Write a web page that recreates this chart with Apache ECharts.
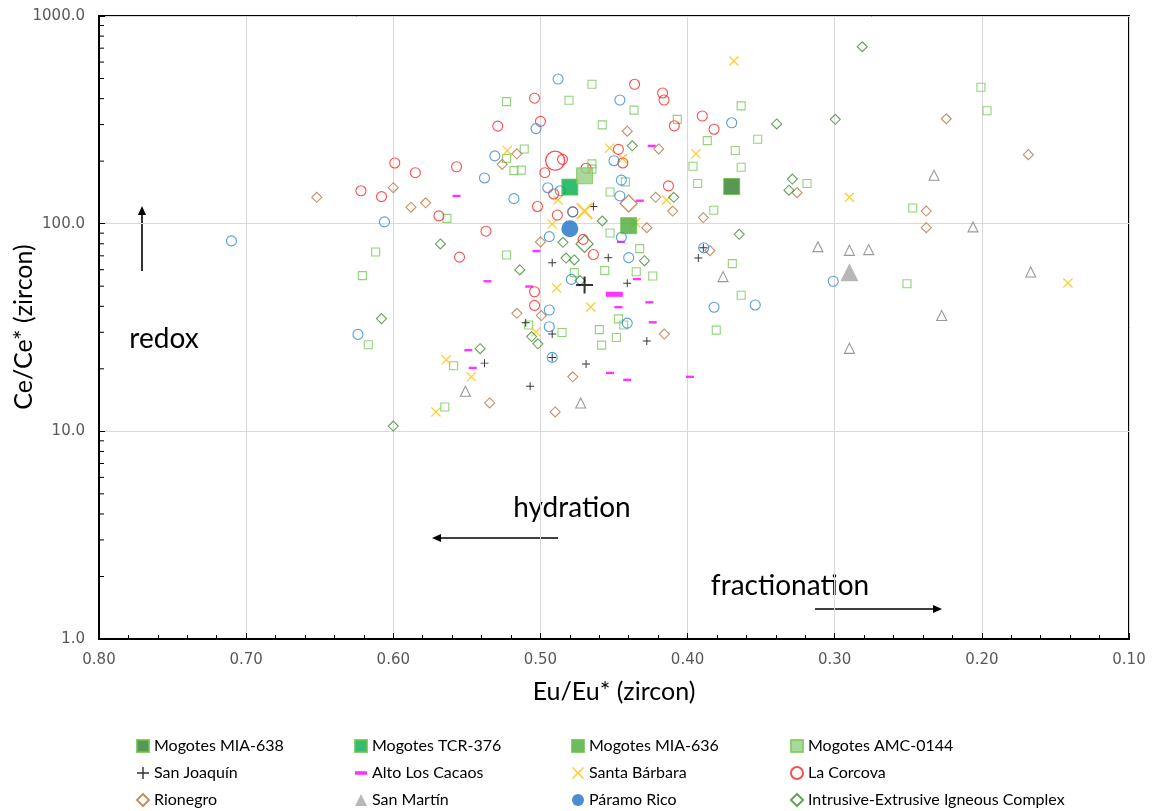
<!DOCTYPE html>
<html>
<head>
<meta charset="utf-8">
<script src="https://cdn.jsdelivr.net/npm/echarts@6/dist/echarts.min.js"></script>
<style>
html,body{margin:0;padding:0;background:#fff;}
#chart{width:1152px;height:811px;}
</style>
</head>
<body>
<div id="chart"></div>
<script>
// ---------- data (Eu/Eu*, Ce/Ce*) ----------
const yMinorTickValues = [2,3,4,5,6,7,8,9,20,30,40,50,60,70,80,90,200,300,400,500,600,700,800,900];

const mogotesMIA638 = [[0.370, 151]];
const mogotesTCR376 = [[0.480, 150]];
const mogotesMIA636 = [[0.440, 97.8]];
const mogotesAMC0144 = [[0.470, 170]];

const mogotesAnalyses = [
[0.5635,106],[0.612,73.1],[0.621,56.2],[0.617,26.1],[0.559,20.7],[0.565,13.1],[0.523,70.6],[0.508,32.5],
[0.465,469],[0.523,387],[0.4806,393],[0.4364,352],[0.407,318],[0.458,299],[0.3866,251],[0.3523,255],
[0.511,229],[0.523,206],[0.518,180],[0.513,181],[0.465,194],[0.465,183],[0.3676,225],[0.3636,187],
[0.3963,189],[0.3931,156],[0.4423,159],[0.4527,142],[0.3822,116],[0.4527,90.2],[0.4325,75.8],[0.477,58.1],
[0.4563,59.4],[0.4349,58.7],[0.4237,56.0],[0.3696,64.2],[0.2006,454],[0.1965,350],[0.3636,369],[0.3188,156],
[0.247,119],[0.2509,51.4],[0.3636,45.2],[0.3805,30.7],[0.4853,29.9],[0.447,34.8],[0.4434,32.5],[0.460,30.9],
[0.4484,28.3],[0.4584,26.0]
];

const sanJoaquin = [
[0.464,121],[0.4539,68.6],[0.492,64.9],[0.3927,68.3],[0.3893,76.6],[0.510,33.3],[0.538,21.3],[0.507,16.5],
[0.441,51.6],[0.492,29.4],[0.4277,27.2],[0.492,22.7],[0.469,21.1]
];
const sanJoaquinMean = [[0.470, 50.7]];

const altoLosCacaos = [
[0.557,136],[0.4244,237],[0.4325,129],[0.5027,73.8],[0.4453,81.7],[0.4344,54.1],[0.536,52.8],[0.5076,49.8],
[0.549,24.6],[0.546,20.2],[0.447,39.6],[0.426,41.8],[0.4237,33.5],[0.4527,19.1],[0.441,17.7],[0.3984,18.3]
];
const altoLosCacaosMean = [[0.4498, 45.7]];

const santaBarbara = [
[0.3685,607],[0.453,231],[0.5225,225],[0.4442,206],[0.3943,217],[0.488,130],[0.4142,130],[0.492,99.6],
[0.4353,101],[0.290,134],[0.1415,51.8],[0.503,30.1],[0.564,22.1],[0.547,18.3],[0.571,12.4],[0.489,49.0],
[0.4658,39.7]
];
const santaBarbaraMean = [[0.470, 115]];

const laCorcova = [
[0.599,196],[0.585,176],[0.557,188],[0.622,144],[0.608,135],[0.569,109],[0.537,92],[0.555,69],
[0.529,295],[0.436,469],[0.417,426],[0.416,394],[0.504,402],[0.500,311],[0.409,296],[0.390,330],
[0.382,285],[0.447,228],[0.485,204],[0.444,196],[0.469,185],[0.413,152],[0.497,176],[0.491,139],
[0.502,121],[0.4885,110],[0.478,114],[0.471,84],[0.464,71],[0.504,47],[0.504,40.4]
];
const laCorcovaMean = [[0.490, 201]];

const rionegro = [
[0.652,134],[0.600,149],[0.588,120],[0.578,126],[0.526,193],[0.441,279],[0.4196,229],[0.516,217],
[0.4217,134],[0.4101,115],[0.4277,95.7],[0.3893,107],[0.500,81.7],[0.3848,74.1],[0.2242,320],[0.1684,215],
[0.3256,141],[0.2378,115],[0.2378,95.7],[0.516,37.0],[0.4994,36.1],[0.4158,29.4],[0.478,18.3],[0.490,12.4],
[0.5345,13.7]
];
const rionegroMean = [[0.440, 125]];

const sanMartin = [
[0.3759,55.6],[0.2325,171],[0.206,96.5],[0.3114,77.5],[0.290,74.4],[0.2769,75.0],[0.1668,58.5],[0.2273,36.1],
[0.290,25.1],[0.551,15.6],[0.4726,13.7]
];
const sanMartinMean = [[0.290, 58.3]];

const paramoRico = [
[0.538,166],[0.531,212],[0.606,102],[0.710,82.6],[0.488,497],[0.446,394],[0.503,287],[0.370,306],
[0.450,201],[0.495,149],[0.4865,144],[0.445,162],[0.446,136],[0.518,132],[0.478,114],[0.494,86.6],
[0.445,85.9],[0.440,68.6],[0.389,76.6],[0.624,29.3],[0.494,38.4],[0.494,31.9],[0.479,53.9],[0.441,33.2],
[0.492,22.7],[0.382,39.6],[0.354,40.6],[0.301,52.8]
];
const paramoRicoMean = [[0.480, 94.6]];

const intrusive = [
[0.568,79.9],[0.514,59.9],[0.4376,237],[0.4094,134],[0.458,103],[0.3649,88.9],[0.4847,81.3],[0.4826,68.3],
[0.477,66.9],[0.4293,66.3],[0.2813,711],[0.3394,302],[0.2996,318],[0.3288,164],[0.3311,145],[0.608,34.9],
[0.506,28.6],[0.5017,26.4],[0.541,25.0],[0.600,10.6],[0.473,53.2]
];
const intrusiveMean = [[0.470, 79.9]];

// ---------- styling ----------
const PLUS = 'path://M4.4,0H5.6V4.4H10V5.6H5.6V10H4.4V5.6H0V4.4H4.4Z';
const CROSS = 'path://M0.9,0L5,4.1L9.1,0L10,0.9L5.9,5L10,9.1L9.1,10L5,5.9L0.9,10L0,9.1L4.1,5L0,0.9Z';
const DASH = 'path://M0,0H10V3H0Z';
const NONE = 'rgba(255,255,255,0)';
const FONT = 'Lato';

const C = {
  mia638: '#2F7D27', tcr376: '#00AD4E', mia636: '#4BAA38', amc: '#92D07E', lightGreen: '#74C958',
  black: '#000000', magenta: '#FF00FF', yellow: '#FFC000', red: '#FF2020', brown: '#B8743E',
  gray: '#808080', grayFill: '#A6A6A6', blue: '#2F86D6', blueFill: '#1F6FC5', dkGreen: '#3B8C2E'
};

function openStyle(col, w) { return { color: NONE, borderColor: col, borderWidth: w || 1.1 }; }
function fillStyle(col) { return { color: col, borderWidth: 0 }; }

function ser(name, data, symbol, size, itemStyle, z, extra) {
  return Object.assign({
    type: 'scatter', name: name, data: data, symbol: symbol, symbolSize: size,
    itemStyle: itemStyle, z: z, emphasis: { disabled: true }, animation: false
  }, extra || {});
}

// open individual analyses but filled legend icon (series-level fill, item-level open)
function openItems(arr, col) {
  return arr.map(p => ({ value: p, itemStyle: openStyle(col) }));
}

const series = [
  ser('Mogotes analyses', mogotesAnalyses, 'rect', 8, openStyle(C.lightGreen), 2),
  ser('San Joaquín', sanJoaquin, PLUS, 8, fillStyle(C.black), 2),
  ser('Alto Los Cacaos', altoLosCacaos, DASH, 8, fillStyle(C.magenta), 2, { symbolKeepAspect: true }),
  ser('Santa Bárbara', santaBarbara, CROSS, 10, fillStyle(C.yellow), 2),
  ser('La Corcova', laCorcova, 'circle', 10, openStyle(C.red), 2),
  ser('Rionegro', rionegro, 'diamond', 10, openStyle(C.brown), 2),
  ser('San Martín', openItems(sanMartin, C.gray), 'triangle', 10, fillStyle(C.grayFill), 2),
  ser('Páramo Rico', openItems(paramoRico, C.blue), 'circle', 10, fillStyle(C.blueFill), 2),
  ser('Intrusive-Extrusive Igneous Complex', intrusive, 'diamond', 10, openStyle(C.dkGreen), 2),
  // means
  ser('La Corcova mean', laCorcovaMean, 'circle', 19, openStyle(C.red, 1.3), 4),
  ser('Santa Bárbara mean', santaBarbaraMean, CROSS, 17, fillStyle(C.yellow), 4),
  ser('San Joaquín mean', sanJoaquinMean, PLUS, 17, fillStyle(C.black), 4),
  ser('Alto Los Cacaos mean', altoLosCacaosMean, DASH, 17, fillStyle(C.magenta), 4, { symbolKeepAspect: true }),
  ser('Rionegro mean', rionegroMean, 'diamond', 17, openStyle(C.brown, 1.3), 4),
  ser('Intrusive mean', intrusiveMean, 'diamond', 17, openStyle(C.dkGreen, 1.3), 4),
  ser('San Martín mean', sanMartinMean, 'triangle', 18, fillStyle(C.grayFill), 4),
  ser('Páramo Rico mean', paramoRicoMean, 'circle', 17, fillStyle(C.blueFill), 4),
  ser('Mogotes MIA-638', mogotesMIA638, 'rect', 16, { color: C.mia638, borderColor: '#6CC04A', borderWidth: 1 }, 5),
  ser('Mogotes TCR-376', mogotesTCR376, 'rect', 16, { color: C.tcr376, borderColor: '#6CC04A', borderWidth: 1 }, 5),
  ser('Mogotes MIA-636', mogotesMIA636, 'rect', 16, { color: C.mia636, borderColor: '#6CC04A', borderWidth: 1 }, 5),
  ser('Mogotes AMC-0144', mogotesAMC0144, 'rect', 16, { color: C.amc, borderColor: '#7CC860', borderWidth: 1 }, 5),
  {
    type: 'custom', name: 'yMinorTicks', silent: true, clip: false, z: 10, animation: false,
    data: yMinorTickValues.map(v => [0.8, v]),
    renderItem: function (params, api) {
      const p = api.coord([api.value(0), api.value(1)]);
      return { type: 'line', shape: { x1: p[0], y1: p[1], x2: p[0] + 5, y2: p[1] },
               style: { stroke: '#000', lineWidth: 1 } };
    }
  }
];

function legendCol(left, names) {
  return {
    orient: 'vertical', left: left, top: 738, height: 73, padding: 0,
    itemWidth: 12, itemHeight: 12, itemGap: 11,
    selectedMode: false, data: names,
    textStyle: { fontFamily: FONT, fontSize: 16, color: '#000' }
  };
}

const option = {
  backgroundColor: '#ffffff',
  animation: false,
  grid: { left: 99, right: 23, top: 16, bottom: 172, show: true, borderColor: '#000', borderWidth: 2 },
  xAxis: {
    type: 'value', inverse: true, min: 0.1, max: 0.8, interval: 0.1,
    axisLine: { onZero: false, lineStyle: { color: '#000', width: 2 } },
    axisTick: { show: true, inside: true, length: 6, lineStyle: { color: '#000', width: 1 } },
    minorTick: { show: true, splitNumber: 5, length: 4, lineStyle: { color: '#000', width: 1 } },
    axisLabel: { color: '#595959', fontFamily: 'DejaVu Sans', fontSize: 15, margin: 14,
                 formatter: v => v.toFixed(2) },
    splitLine: { show: true, lineStyle: { color: '#D9D9D9', width: 1 } }
  },
  yAxis: {
    type: 'log', logBase: 10, min: 1, max: 1000,
    axisLine: { lineStyle: { color: '#000', width: 2 } },
    axisTick: { show: true, inside: true, length: 6, lineStyle: { color: '#000', width: 1 } },
    axisLabel: { color: '#595959', fontFamily: 'DejaVu Sans', fontSize: 15, margin: 14,
                 formatter: v => Number(v).toFixed(1) },
    splitLine: { show: true, lineStyle: { color: '#D9D9D9', width: 1 } }
  },
  legend: [
    legendCol(136, ['Mogotes MIA-638', 'San Joaquín', 'Rionegro']),
    legendCol(354, ['Mogotes TCR-376', 'Alto Los Cacaos', 'San Martín']),
    legendCol(571, ['Mogotes MIA-636', 'Santa Bárbara', 'Páramo Rico']),
    legendCol(790, ['Mogotes AMC-0144', 'La Corcova', 'Intrusive-Extrusive Igneous Complex'])
  ],
  graphic: [
    { type: 'text', x: 24, y: 327, rotation: Math.PI / 2, silent: true,
      style: { text: 'Ce/Ce* (zircon)', fontFamily: FONT, fontSize: 25, fill: '#000', align: 'center', verticalAlign: 'middle' } },
    { type: 'text', x: 614, y: 692, silent: true,
      style: { text: 'Eu/Eu* (zircon)', fontFamily: FONT, fontSize: 25, fill: '#000', align: 'center', verticalAlign: 'middle' } },
    { type: 'text', x: 164, y: 339, silent: true,
      style: { text: 'redox', fontFamily: FONT, fontSize: 28, fill: '#000', align: 'center', verticalAlign: 'middle' } },
    { type: 'text', x: 572, y: 508, silent: true,
      style: { text: 'hydration', fontFamily: FONT, fontSize: 28, fill: '#000', align: 'center', verticalAlign: 'middle' } },
    { type: 'text', x: 790, y: 586, silent: true,
      style: { text: 'fractionation', fontFamily: FONT, fontSize: 28, fill: '#000', align: 'center', verticalAlign: 'middle' } },
    { type: 'line', silent: true, shape: { x1: 142, y1: 271, x2: 142, y2: 213 }, style: { stroke: '#000', lineWidth: 1.6 } },
    { type: 'polygon', silent: true, shape: { points: [[142, 206], [138, 215], [146, 215]] }, style: { fill: '#000' } },
    { type: 'line', silent: true, shape: { x1: 558, y1: 538, x2: 439, y2: 538 }, style: { stroke: '#000', lineWidth: 1.6 } },
    { type: 'polygon', silent: true, shape: { points: [[432, 538], [441, 534], [441, 542]] }, style: { fill: '#000' } },
    { type: 'line', silent: true, shape: { x1: 815, y1: 609, x2: 935, y2: 609 }, style: { stroke: '#000', lineWidth: 1.6 } },
    { type: 'polygon', silent: true, shape: { points: [[942, 609], [933, 605], [933, 613]] }, style: { fill: '#000' } }
  ],
  series: series
};

const chart = echarts.init(document.getElementById('chart'), null, { renderer: 'canvas' });
chart.setOption(option);
</script>
</body>
</html>
